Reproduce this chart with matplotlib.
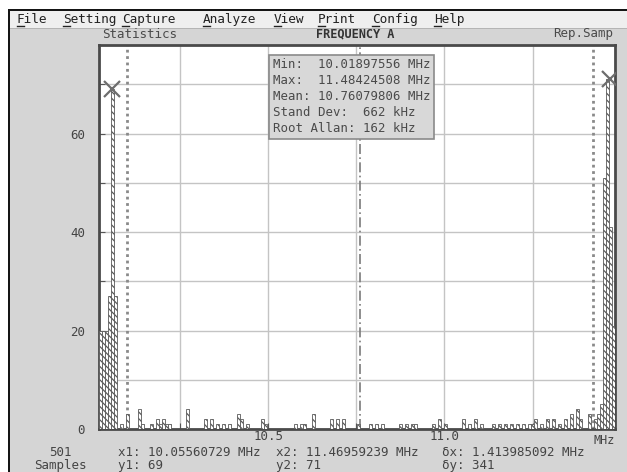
import numpy as np
import matplotlib.pyplot as plt
from matplotlib.patches import Rectangle
from matplotlib.lines import Line2D

plt.rcParams['font.family'] = ['DejaVu Sans Mono']
plt.rcParams['hatch.linewidth'] = 0.9

# histogram of frequency readings
f_min = 10.01897556
f_max = 11.48424508
f_mean = 10.76079806
f_std = 0.662
n_bins = 172

bin_index = [0, 1, 2, 3, 4, 5, 7, 9, 13, 14, 17, 19, 20, 21, 22, 23, 29,
             35, 37, 39, 41, 43, 46, 47, 49, 54, 55, 65, 67, 68, 71,
             77, 79, 81, 86, 90, 92, 94, 100, 102, 104, 105, 111, 113, 115,
             121, 123, 125, 127, 131, 133, 135, 137, 139, 141, 143, 144,
             145, 147, 149, 151, 153, 155, 157, 159, 160, 163, 165, 166,
             167, 168, 169, 170, 171]
bin_count = [20, 20, 20, 27, 69, 27, 1, 3, 4, 1, 1, 2, 1, 2, 1, 1, 4,
             2, 2, 1, 1, 1, 3, 2, 1, 2, 1, 1, 1, 1, 3,
             2, 2, 2, 1, 1, 1, 1, 1, 1, 1, 1, 1, 2, 1,
             2, 1, 2, 1, 1, 1, 1, 1, 1, 1, 1, 1,
             2, 1, 2, 2, 1, 2, 3, 4, 2, 3, 2, 3,
             5, 51, 71, 41, 21]

x1, y1 = 10.05560729, 69
x2, y2 = 11.46959239, 71
dx = 1.413985092
dy = 341
n_samples = 501

menu_items = ['File', 'Setting', 'Capture', 'Analyze', 'View', 'Print', 'Config', 'Help']
menu_x = [17, 63, 122, 203, 274, 318, 372, 434]

stats_lines = ['Min:  10.01897556 MHz',
               'Max:  11.48424508 MHz',
               'Mean: 10.76079806 MHz',
               'Stand Dev:  662 kHz',
               'Root Allan: 162 kHz']

W, H = 627, 472
fig = plt.figure(figsize=(W / 100, H / 100), dpi=100)
fig.patch.set_facecolor('#d5d5d5')


def fx(x):
    return x / W


def fy(y):
    return 1 - y / H


def box(x0, y0, x1_, y1_, **kw):
    fig.patches.append(Rectangle((fx(x0), fy(y1_)), fx(x1_) - fx(x0), fy(y0) - fy(y1_),
                                 transform=fig.transFigure, **kw))


# window chrome
box(0, 0, W, 9, color='white', lw=0)
box(0, 0, 8, H, color='white', lw=0)
box(8, 9, W, 11, color='#151515', lw=0)
box(8, 9, 10, H, color='#151515', lw=0)
box(10, 11, W, 28, color='#efefef', lw=0)
box(10, 28, W, 29, color='#b5b5b5', lw=0)

for name, x in zip(menu_items, menu_x):
    fig.text(fx(x), fy(19.5), name, fontsize=9.2, color='#222222',
             ha='left', va='center')
    fig.lines.append(Line2D([fx(x), fx(x + 7)], [fy(25.5), fy(25.5)],
                            transform=fig.transFigure, color='#222222', lw=1))

fig.text(fx(140), fy(34), 'Statistics', fontsize=9, color='#4a4a4a', ha='center', va='center')
fig.text(fx(355), fy(34), 'FREQUENCY A', fontsize=8.6, color='#333333', ha='center',
         va='center', weight='bold')
fig.text(fx(613), fy(34), 'Rep.Samp', fontsize=9, color='#4a4a4a', ha='right', va='center')

# plot area
ax = fig.add_axes([fx(99), fy(429), fx(615) - fx(99), fy(45) - fy(429)])
ax.set_facecolor('white')

width = (f_max - f_min) / n_bins
lefts = f_min + np.array(bin_index) * width
ax.bar(lefts, bin_count, width=width, align='edge', color='white',
       edgecolor='#5a5a5a', hatch='\\\\\\\\\\', lw=0.6, zorder=3)

ax.set_xlim(f_min, f_max)
ax.set_ylim(0, 78)

ax.set_xticks([10.25, 10.5, 10.75, 11.0, 11.25])
ax.set_xticklabels(['', '10.5', '', '11.0', ''])
ax.set_yticks(range(0, 80, 10))
ax.set_yticklabels(['0', '', '20', '', '40', '', '60', ''])
ax.grid(True, color='#c4c4c4', lw=1, zorder=1)
ax.tick_params(direction='in', length=4, color='#555555', labelcolor='#444444',
               labelsize=9)
ax.tick_params(axis='y', pad=10)
ax.tick_params(axis='x', pad=1)
for s in ax.spines.values():
    s.set_color('#4a4a4a')
    s.set_linewidth(2)

ax.text(1.0, -0.012, 'MHz', transform=ax.transAxes, ha='right', va='top',
        fontsize=8.6, color='#444444')

# mean and +/- one standard deviation
ax.axvline(f_mean, color='#7a7a7a', lw=1.2, ls=(0, (6, 2, 1, 2)), zorder=2)
for xv in (f_mean - f_std, f_mean + f_std):
    ax.axvline(xv, color='#8a8a8a', lw=2, ls=(0, (1, 1.3)), zorder=2)

# cursors
ax.plot([x1, x2], [y1, y2], 'x', color='#6e6e6e', ms=11, mew=1.6, zorder=4)

# statistics box
ax.text(0.337, 0.965, '\n'.join(stats_lines), transform=ax.transAxes,
        ha='left', va='top', fontsize=8.9, color='#4a4a4a', linespacing=1.3,
        bbox=dict(boxstyle='square,pad=0.3', fc='#d8d8d8', ec='#8a8a8a', lw=1.2),
        zorder=5)

# cursor readout
row1, row2 = 452, 465
fig.text(fx(60), fy(row1), str(n_samples), fontsize=9, color='#444444', ha='center', va='center')
fig.text(fx(60), fy(row2), 'Samples', fontsize=9, color='#444444', ha='center', va='center')
fig.text(fx(118), fy(row1), 'x1: %.8f MHz' % x1, fontsize=9, color='#444444', va='center')
fig.text(fx(276), fy(row1), 'x2: %.8f MHz' % x2, fontsize=9, color='#444444', va='center')
fig.text(fx(442), fy(row1), 'δx: %.9f MHz' % dx, fontsize=9, color='#444444', va='center')
fig.text(fx(118), fy(row2), 'y1: %d' % y1, fontsize=9, color='#444444', va='center')
fig.text(fx(276), fy(row2), 'y2: %d' % y2, fontsize=9, color='#444444', va='center')
fig.text(fx(442), fy(row2), 'δy: %d' % dy, fontsize=9, color='#444444', va='center')

fig.savefig('out.png', dpi=100, facecolor=fig.get_facecolor())
